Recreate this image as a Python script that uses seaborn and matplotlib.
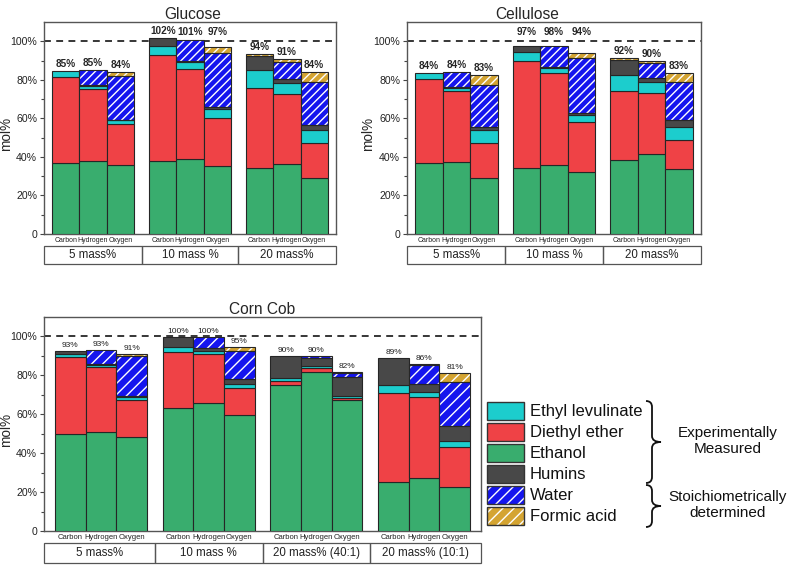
import numpy as np
import matplotlib
matplotlib.use("Agg")
import matplotlib.pyplot as plt
import matplotlib.transforms as mtransforms
from matplotlib.patches import Rectangle, PathPatch
from matplotlib.path import Path
import seaborn as sns

# ---------------- data ----------------
components = ["Ethanol", "Diethyl ether", "Ethyl levulinate", "Humins", "Water", "Formic acid"]
legend_order = ["Ethyl levulinate", "Diethyl ether", "Ethanol", "Humins", "Water", "Formic acid"]
elements = ["Carbon", "Hydrogen", "Oxygen"]

glucose_groups = ["5 mass%", "10 mass %", "20 mass%"]
glucose_ethanol = [37.0, 37.7, 35.6, 38.0, 39.1, 35.1, 34.1, 36.1, 29.3]
glucose_dee = [44.6, 37.7, 21.4, 54.9, 46.6, 25.3, 41.8, 36.7, 17.7]
glucose_el = [2.9, 1.4, 2.0, 4.9, 3.5, 4.3, 9.3, 5.5, 6.9]
glucose_humins = [0.0, 0.3, 0.3, 3.7, 0.5, 1.2, 7.1, 2.3, 2.6]
glucose_water = [0.0, 7.9, 22.8, 0.0, 10.8, 28.1, 0.0, 8.9, 22.5]
glucose_formic = [0.0, 0.0, 1.7, 0.0, 0.0, 2.9, 1.3, 1.1, 5.0]
glucose_labels = ["85%", "85%", "84%", "102%", "101%", "97%", "94%", "91%", "84%"]

cellulose_groups = ["5 mass%", "10 mass %", "20 mass%"]
cellulose_ethanol = [36.9, 37.5, 29.0, 34.5, 35.8, 32.3, 38.2, 41.3, 33.6]
cellulose_dee = [43.5, 36.9, 18.4, 55.1, 47.5, 25.7, 35.9, 31.9, 15.4]
cellulose_el = [3.1, 1.4, 6.7, 4.9, 2.9, 3.8, 8.2, 5.6, 6.3]
cellulose_humins = [0.0, 0.3, 1.2, 2.8, 0.5, 1.2, 8.1, 2.1, 3.9]
cellulose_water = [0.0, 7.9, 22.2, 0.0, 10.9, 28.3, 0.0, 7.8, 19.6]
cellulose_formic = [0.0, 0.0, 4.9, 0.0, 0.0, 2.6, 1.1, 0.9, 4.6]
cellulose_labels = ["84%", "84%", "83%", "97%", "98%", "94%", "92%", "90%", "83%"]

corn_groups = ["5 mass%", "10 mass %", "20 mass% (40:1)", "20 mass% (10:1)"]
corn_ethanol = [49.8, 50.7, 48.3, 63.0, 65.7, 59.6, 75.1, 81.6, 67.1, 25.4, 27.5, 22.5]
corn_dee = [39.8, 33.8, 19.1, 29.0, 25.4, 13.9, 2.2, 2.0, 1.3, 45.6, 41.4, 20.5]
corn_el = [1.4, 0.7, 1.7, 2.7, 1.6, 2.1, 1.4, 1.0, 0.9, 4.1, 2.8, 3.1]
corn_humins = [1.7, 0.5, 0.5, 5.0, 1.2, 2.6, 11.1, 4.1, 9.7, 13.6, 3.9, 7.8]
corn_water = [0.0, 7.3, 20.3, 0.0, 5.8, 14.5, 0.0, 1.1, 2.2, 0.0, 9.7, 22.6]
corn_formic = [0.0, 0.0, 1.1, 0.0, 0.0, 1.7, 0.0, 0.0, 0.5, 0.0, 0.5, 4.7]
corn_labels = ["93%", "93%", "91%", "100%", "100%", "95%", "90%", "90%", "82%", "89%", "86%", "81%"]

yticks = [0, 20, 40, 60, 80, 100]
ytick_labels = ["0", "20%", "40%", "60%", "80%", "100%"]

colors = {
    "Ethanol": "#39AD6E",
    "Diethyl ether": "#EF4246",
    "Ethyl levulinate": "#1CCDCD",
    "Humins": "#484848",
    "Water": "#1515EE",
    "Formic acid": "#D4A431",
}
hatched = {"Water", "Formic acid"}
EDGE = "#262626"

# ---------------- style ----------------
sns.set_style("ticks")
plt.rcParams["font.family"] = ["Liberation Sans", "DejaVu Sans"]
plt.rcParams["hatch.linewidth"] = 1.0

W, H = 793, 565
fig = plt.figure(figsize=(W / 100, H / 100), dpi=100)


def px_axes(l, t, r, b):
    return fig.add_axes([l / W, (H - b) / H, (r - l) / W, (b - t) / H])


def draw_panel(ax, title, title_x, groups, data, labels, gap, margin, hatch,
               label_kw, box_top, box_bot, tick_fs, ylabel_x, raise_level=None):
    ng = len(groups)
    xs = np.array([g * (3 + gap) + j for g in range(ng) for j in range(3)], dtype=float)
    bottom = np.zeros(len(xs))
    for comp in components:
        h = np.asarray(data[comp], dtype=float)
        m = h > 0
        if comp in hatched:
            ax.bar(xs[m], h[m], bottom=bottom[m], width=1.0, color=colors[comp],
                   edgecolor="white", linewidth=0, hatch=hatch, zorder=2)
            ax.bar(xs[m], h[m], bottom=bottom[m], width=1.0, fill=False,
                   edgecolor=EDGE, linewidth=0.8, zorder=3)
        else:
            ax.bar(xs[m], h[m], bottom=bottom[m], width=1.0, color=colors[comp],
                   edgecolor=EDGE, linewidth=0.8, zorder=3)
        bottom = bottom + h
    for g in range(ng):
        tops = bottom[3 * g:3 * g + 3]
        lift = raise_level is not None and tops.max() > 96.5
        for j in range(3):
            i = 3 * g + j
            y = max(tops[j], raise_level) if lift else tops[j]
            ax.annotate(labels[i], (xs[i], y), xytext=(0, 1.5), textcoords="offset points",
                        ha="center", va="bottom", zorder=5, **label_kw)

    x0, x1 = -0.5 - margin, xs[-1] + 0.5 + margin
    ax.set_xlim(x0, x1)
    ax.set_ylim(0, 110)
    ax.axhline(100, color="black", lw=1.1, ls=(0, (4.5, 3.5)), zorder=1)

    ax.set_yticks(yticks)
    ax.set_yticklabels(ytick_labels, fontsize=7.6, color="#222222")
    ax.set_yticks(np.arange(10, 110, 20), minor=True)
    ax.tick_params(axis="y", which="major", length=3, width=0.8, direction="out", pad=2,
                   color="#444444")
    ax.tick_params(axis="y", which="minor", length=2, width=0.8, direction="out",
                   color="#444444")
    ax.set_xticks(xs)
    ax.set_xticklabels(elements * ng, fontsize=tick_fs, color="#222222")
    ax.tick_params(axis="x", length=0, pad=2.5)
    for s in ax.spines.values():
        s.set_visible(True)
        s.set_color("#555555")
        s.set_linewidth(1.0)
    ax.set_ylabel("mol%", fontsize=9.8)
    ax.yaxis.set_label_coords(ylabel_x, 0.47)
    ax.text(title_x, 1.0, title, transform=ax.transAxes, ha="center", va="bottom",
            fontsize=11.2)
    # group label boxes
    trans = mtransforms.blended_transform_factory(ax.transData, ax.transAxes)
    edges = [x0] + [g * (3 + gap) - 0.5 - gap / 2 for g in range(1, ng)] + [x1]
    for g in range(ng):
        ax.add_patch(Rectangle((edges[g], box_bot), edges[g + 1] - edges[g], box_top - box_bot,
                               transform=trans, fill=False, edgecolor="#555555", lw=0.9,
                               clip_on=False))
        ax.text((edges[g] + edges[g + 1]) / 2, (box_top + box_bot) / 2, groups[g],
                transform=trans, ha="center", va="center", fontsize=8.3, color="#222222")


# Glucose
ax1 = px_axes(44, 22, 336, 234)
draw_panel(ax1, "Glucose", 0.51, glucose_groups,
           {"Ethanol": glucose_ethanol, "Diethyl ether": glucose_dee,
            "Ethyl levulinate": glucose_el, "Humins": glucose_humins,
            "Water": glucose_water, "Formic acid": glucose_formic},
           glucose_labels, gap=0.55, margin=0.3, hatch="////",
           label_kw=dict(fontsize=7.2, fontweight="bold"),
           box_top=-12 / 212, box_bot=-30 / 212, tick_fs=5.0, ylabel_x=-0.106,
           raise_level=101.0)

# Cellulose
ax2 = px_axes(407, 22, 701, 234)
draw_panel(ax2, "Cellulose", 0.41, cellulose_groups,
           {"Ethanol": cellulose_ethanol, "Diethyl ether": cellulose_dee,
            "Ethyl levulinate": cellulose_el, "Humins": cellulose_humins,
            "Water": cellulose_water, "Formic acid": cellulose_formic},
           cellulose_labels, gap=0.55, margin=0.3, hatch="////",
           label_kw=dict(fontsize=7.2, fontweight="bold"),
           box_top=-12 / 212, box_bot=-30 / 212, tick_fs=5.0, ylabel_x=-0.109,
           raise_level=101.0)

# Corn cob
ax3 = px_axes(44, 317, 481, 531)
draw_panel(ax3, "Corn Cob", 0.5, corn_groups,
           {"Ethanol": corn_ethanol, "Diethyl ether": corn_dee,
            "Ethyl levulinate": corn_el, "Humins": corn_humins,
            "Water": corn_water, "Formic acid": corn_formic},
           corn_labels, gap=0.52, margin=0.36, hatch="///",
           label_kw=dict(fontsize=6, color="#222222"),
           box_top=-12 / 214, box_bot=-32 / 214, tick_fs=5.5, ylabel_x=-0.071)

# ---------------- legend (pixel coordinates) ----------------
lax = fig.add_axes([0, 0, 1, 1])
lax.set_xlim(0, W)
lax.set_ylim(H, 0)
lax.axis("off")
row_top = 402
row_step = 21
for i, comp in enumerate(legend_order):
    y = row_top + i * row_step
    if comp in hatched:
        lax.add_patch(Rectangle((487, y), 37, 18.3, facecolor=colors[comp], edgecolor="white",
                                linewidth=0, hatch="///"))
        lax.add_patch(Rectangle((487, y), 37, 18.3, fill=False, edgecolor="#333333", linewidth=1))
    else:
        lax.add_patch(Rectangle((487, y), 37, 18.3, facecolor=colors[comp],
                                edgecolor="#333333", linewidth=1))
    lax.text(530, y + 9.5, comp, ha="left", va="center", fontsize=12, color="#111111")


def brace(x0, y1, y2, w=6, tip=9):
    ym = (y1 + y2) / 2
    verts = [(x0 - w, y1), (x0, y1), (x0, y1 + w),
             (x0, ym - w), (x0, ym), (x0 + tip, ym),
             (x0, ym), (x0, ym + w),
             (x0, y2 - w), (x0, y2), (x0 - w, y2)]
    codes = [Path.MOVETO, Path.CURVE3, Path.CURVE3,
             Path.LINETO, Path.CURVE3, Path.CURVE3,
             Path.CURVE3, Path.CURVE3,
             Path.LINETO, Path.CURVE3, Path.CURVE3]
    lax.add_patch(PathPatch(Path(verts, codes), fill=False, edgecolor="#111111", lw=1.3))


brace(652, 401, 483)
brace(652, 485, 527)
lax.text(728, 441, "Experimentally\nMeasured", ha="center", va="center", fontsize=11,
         linespacing=1.25, color="#111111")
lax.text(728, 505, "Stoichiometrically\ndetermined", ha="center", va="center", fontsize=11,
         linespacing=1.25, color="#111111")

fig.savefig("out.png", dpi=100, facecolor="white")
